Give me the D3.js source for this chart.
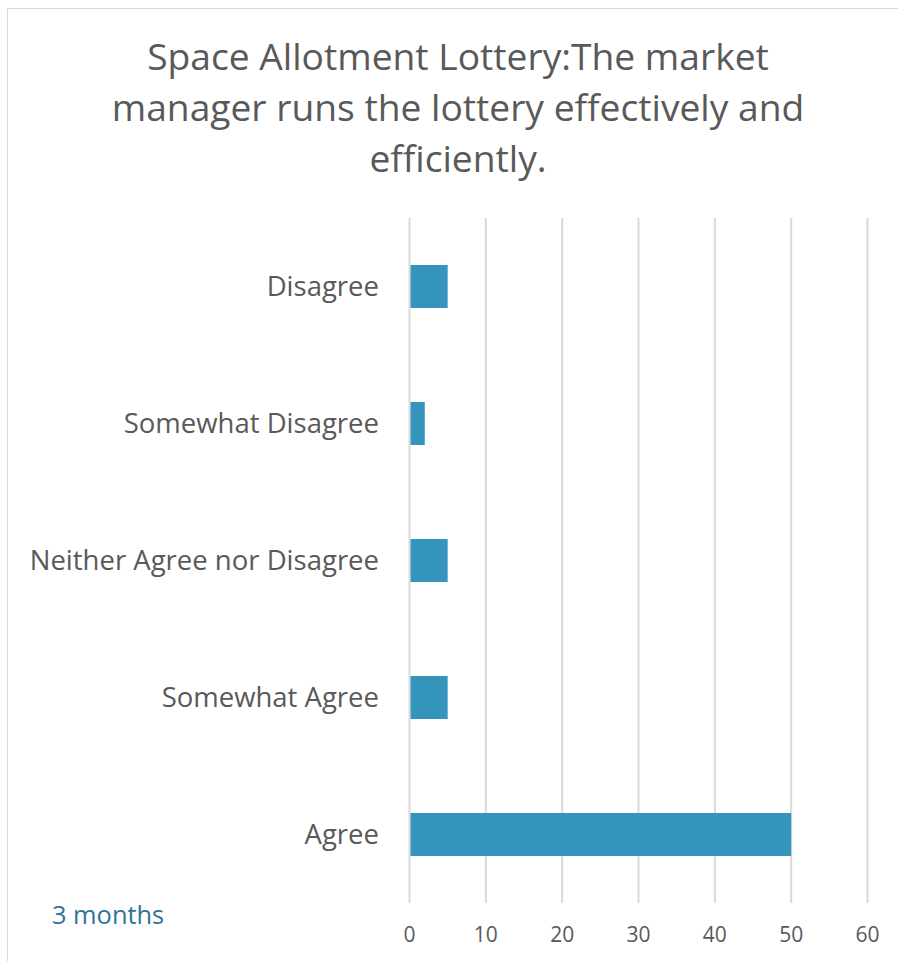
<!DOCTYPE html>
<html>
<head>
<meta charset="utf-8">
<script src="https://cdn.jsdelivr.net/npm/d3@7"></script>
<style>
  body { margin: 0; background: #fff; }
  text { font-family: "Open Sans", "Noto Sans", sans-serif; }
</style>
</head>
<body>
<svg id="chart" width="898" height="961"></svg>
<script>
const categories = ["Disagree", "Somewhat Disagree", "Neither Agree nor Disagree", "Somewhat Agree", "Agree"];
const values = [5, 2, 5, 5, 50];
const xTicks = [0, 10, 20, 30, 40, 50, 60];
const titleLines = ["Space Allotment Lottery:The market", "manager runs the lottery effectively and", "efficiently."];
const seriesName = "3 months";

const svg = d3.select("#chart");

// chart frame
svg.append("rect")
  .attr("x", 7.5).attr("y", 8.5)
  .attr("width", 896).attr("height", 960)
  .attr("fill", "#fff")
  .attr("stroke", "#d9d9d9");

const x = d3.scaleLinear().domain([0, 60]).range([409.5, 867.5]);
const y = d3.scaleBand().domain(categories).range([218, 903]).paddingInner(0.686).paddingOuter(0.343);

// gridlines
svg.append("g").selectAll("line")
  .data(xTicks)
  .join("line")
  .attr("x1", d => x(d)).attr("x2", d => x(d))
  .attr("y1", 218).attr("y2", 903)
  .attr("stroke", "#d9d9d9")
  .attr("stroke-width", 2);

// bars
svg.append("g").selectAll("rect")
  .data(categories)
  .join("rect")
  .attr("x", x(0) + 1)
  .attr("y", d => y(d))
  .attr("width", (d, i) => x(values[i]) - x(0) - 1)
  .attr("height", y.bandwidth())
  .attr("fill", "#3594bb");

// x tick labels
svg.append("g").selectAll("text")
  .data(xTicks)
  .join("text")
  .attr("x", d => x(d))
  .attr("y", 942)
  .attr("text-anchor", "middle")
  .attr("font-size", 21)
  .attr("fill", "#595959")
  .text(d => d);

// category labels
svg.append("g").selectAll("text")
  .data(categories)
  .join("text")
  .attr("x", 379)
  .attr("y", d => y(d) + y.bandwidth() / 2 + 9)
  .attr("text-anchor", "end")
  .attr("font-size", 27.5)
  .attr("fill", "#595959")
  .text(d => d);

// title
svg.append("g").selectAll("text")
  .data(titleLines)
  .join("text")
  .attr("x", 458)
  .attr("y", (d, i) => 70 + i * 51)
  .attr("text-anchor", "middle")
  .attr("font-size", 37.2)
  .attr("fill", "#595959")
  .text(d => d);

// legend
svg.append("text")
  .attr("x", 52)
  .attr("y", 924)
  .attr("font-size", 25.4)
  .attr("fill", "#2e7596")
  .text(seriesName);
</script>
</body>
</html>
